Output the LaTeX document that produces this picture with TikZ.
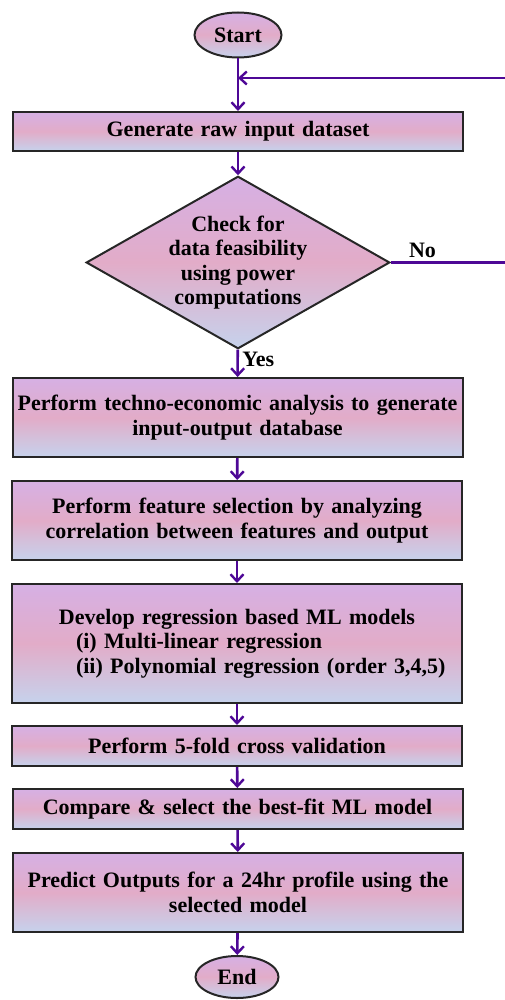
\documentclass[tikz,border=0pt]{standalone}
\usepackage{fontspec}
\setmainfont{Liberation Serif}
\usepackage{xcolor}
\usepackage{tikz}
\usetikzlibrary{shapes,arrows.meta,positioning,calc}

\definecolor{flowline}{RGB}{78,8,150}
\definecolor{shadetop}{RGB}{214,176,228}
\definecolor{shademid}{RGB}{226,172,200}
\definecolor{shadebot}{RGB}{198,210,236}

\tikzset{
    shaded/.style={draw=black!85, line width=2pt, top color=shadetop, bottom color=shadebot, middle color=shademid},
    procbox/.style={shaded, rectangle, minimum width=450pt, text width=448pt, inner sep=0pt, align=center},
    terminal/.style={shaded, ellipse, inner sep=0pt},
    decision/.style={shaded, diamond, aspect=1.76, inner sep=0pt, align=center},
    flow/.style={draw=flowline, line width=2.6pt, -{Straight Barb[length=7pt,width=13pt,line width=2.4pt]}},
    lbl/.style={font=\fontsize{22}{25}\selectfont\bfseries}
}

\begin{document}
\begin{tikzpicture}[x=1pt, y=-1pt, font=\fontsize{22}{24.5}\selectfont\bfseries]
    \useasboundingbox (0,0) rectangle (505,1000);

    % Terminals
    \node[terminal, minimum width=87pt, minimum height=45pt] (start) at (238,35) {Start};
    \node[terminal, minimum width=83pt, minimum height=42pt] (stop) at (237,977) {End};

    % Process steps
    \node[procbox, minimum height=39pt] (gen) at (238,131.5) {Generate raw input dataset};
    \node[decision] (check) at (238,262.5) {Check for\\data feasibility\\using power\\computations};
    \node[procbox, minimum height=79pt] (techno) at (237.5,417.5) {Perform techno-economic analysis to generate\\input-output database};
    \node[procbox, minimum height=79pt] (feat) at (237,520.5) {Perform feature selection by analyzing\\correlation between features and output};
    \node[procbox, minimum height=119pt] (models) at (237,643.5) {Develop regression based ML models\\
        \hspace*{44pt}\makebox[366pt][l]{(i) Multi-linear regression}\\
        \hspace*{44pt}\makebox[366pt][l]{(ii) Polynomial regression (order 3,4,5)}};
    \node[procbox, minimum height=40pt] (cv) at (237,746) {Perform 5-fold cross validation};
    \node[procbox, minimum height=40pt] (best) at (237.5,809) {Compare \& select the best-fit ML model};
    \node[procbox, minimum height=79pt] (pred) at (238,892.5) {Predict Outputs for a 24hr profile using the\\selected model};

    % Feedback loop
    \coordinate (loop) at (238,78);
    \coordinate (loopcorner) at (508,78);

    % Connectors
    \draw[flow] (start) -- (gen);
    \draw[flow] (gen) -- (check);
    \draw[flow] (check) -- (techno) node[lbl, pos=0.35, right=0pt] {Yes};
    \draw[flow] (techno) -- (feat);
    \draw[flow] (feat) -- (models);
    \draw[flow] (models) -- (cv);
    \draw[flow] (cv) -- (best);
    \draw[flow] (best) -- (pred);
    \draw[flow] (pred) -- (stop);
    \draw[flow] (check.east) -- node[lbl, pos=0.27, above=0pt] {No} (check.east -| loopcorner) -- (loopcorner) -- (loop);
\end{tikzpicture}
\end{document}
